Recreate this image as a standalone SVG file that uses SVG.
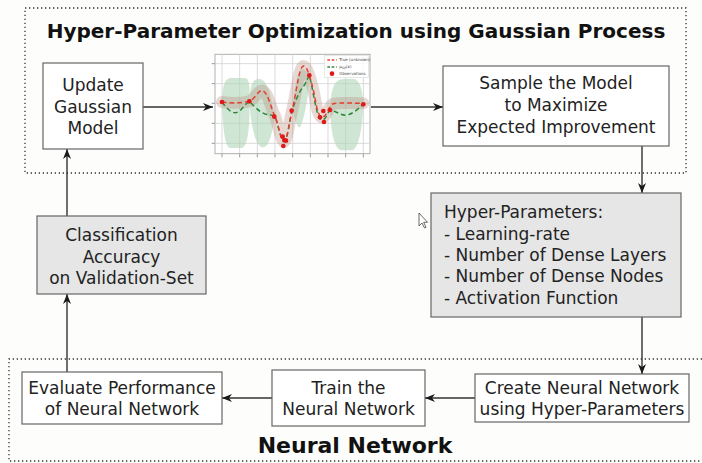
<svg xmlns="http://www.w3.org/2000/svg" width="702" height="463" viewBox="0 0 702 463">
  <defs>
    <style>
      .box { fill: #ffffff; stroke: #666666; stroke-width: 1.2; }
      .gbox { fill: #e6e6e6; stroke: #666666; stroke-width: 1.2; }
      .lbl { font-family: "DejaVu Sans", "Noto Sans", sans-serif; font-size: 17px; fill: #222222; text-anchor: middle; }
      .lft { text-anchor: start; }
      .title { font-family: "DejaVu Sans", "Noto Sans", sans-serif; font-weight: bold; fill: #111111; text-anchor: middle; }
      .zone { fill: none; stroke: #333333; stroke-width: 1.3; stroke-dasharray: 1.3 2.7; }
      .conn { fill: none; stroke: #333333; stroke-width: 1.4; marker-end: url(#arr); }
      .grid { stroke: #d2d2d2; stroke-width: 2.5; fill: none; }
      .tick { stroke: #888888; stroke-width: 2.5; }
      .lobe { fill: #b3d7b9; opacity: 0.62; }
      .obs { fill: #e01818; }
      .leg { font-family: "DejaVu Sans", sans-serif; font-size: 12px; fill: #444444; }
    </style>
    <marker id="arr" viewBox="0 0 10 8" refX="10" refY="4" markerWidth="10" markerHeight="8" markerUnits="userSpaceOnUse" orient="auto">
      <path d="M0,0 L10,4 L0,8 L3,4 Z" fill="#1a1a1a"/>
    </marker>
  </defs>

  <rect x="0" y="0" width="702" height="463" fill="#fdfdfb"/>

  <!-- dotted grouping frames -->
  <rect class="zone" x="25" y="8" width="661" height="165"/>
  <path class="zone" d="M702,359 L9,359 L9,461 L702,461"/>

  <text class="title" x="356" y="38" font-size="20">Hyper-Parameter Optimization using Gaussian Process</text>
  <text class="title" x="355" y="453" font-size="22">Neural Network</text>

  <!-- connectors -->
  <g id="connectors">
    <line class="conn" x1="143" y1="107" x2="213" y2="107"/>
    <line class="conn" x1="371" y1="107" x2="443" y2="107"/>
    <line class="conn" x1="642" y1="146" x2="642" y2="193"/>
    <line class="conn" x1="642" y1="317" x2="642" y2="374"/>
    <line class="conn" x1="475" y1="398" x2="425" y2="398"/>
    <line class="conn" x1="272" y1="398" x2="222" y2="398"/>
    <line class="conn" x1="67" y1="372" x2="67" y2="294"/>
    <line class="conn" x1="67" y1="216" x2="67" y2="149"/>
  </g>

  <g id="update-model">
    <rect class="box" x="43" y="63" width="100" height="86"/>
    <text class="lbl" x="93" y="90.5">Update</text>
    <text class="lbl" x="93" y="112.5">Gaussian</text>
    <text class="lbl" x="93" y="134">Model</text>
  </g>

  <!-- Gaussian process regression plot -->
  <g id="gp-plot" transform="translate(200 40) scale(0.33333)">
    <rect x="45" y="43" width="465" height="298" fill="#ffffff" stroke="#b0b0b0" stroke-width="3"/>
    <g class="grid">
      <line x1="66" y1="43" x2="66" y2="341"/>
      <line x1="119" y1="43" x2="119" y2="341"/>
      <line x1="172" y1="43" x2="172" y2="341"/>
      <line x1="225" y1="43" x2="225" y2="341"/>
      <line x1="278" y1="43" x2="278" y2="341"/>
      <line x1="331" y1="43" x2="331" y2="341"/>
      <line x1="384" y1="43" x2="384" y2="341"/>
      <line x1="437" y1="43" x2="437" y2="341"/>
      <line x1="490" y1="43" x2="490" y2="341"/>
      <line x1="45" y1="71" x2="510" y2="71"/>
      <line x1="45" y1="131" x2="510" y2="131"/>
      <line x1="45" y1="190" x2="510" y2="190"/>
      <line x1="45" y1="250" x2="510" y2="250"/>
      <line x1="45" y1="310" x2="510" y2="310"/>
    </g>
    <g class="tick">
      <line x1="66" y1="341" x2="66" y2="352"/>
      <line x1="119" y1="341" x2="119" y2="352"/>
      <line x1="172" y1="341" x2="172" y2="352"/>
      <line x1="225" y1="341" x2="225" y2="352"/>
      <line x1="278" y1="341" x2="278" y2="352"/>
      <line x1="331" y1="341" x2="331" y2="352"/>
      <line x1="384" y1="341" x2="384" y2="352"/>
      <line x1="437" y1="341" x2="437" y2="352"/>
      <line x1="490" y1="341" x2="490" y2="352"/>
      <line x1="35" y1="71" x2="45" y2="71"/>
      <line x1="35" y1="131" x2="45" y2="131"/>
      <line x1="35" y1="190" x2="45" y2="190"/>
      <line x1="35" y1="250" x2="45" y2="250"/>
      <line x1="35" y1="310" x2="45" y2="310"/>
    </g>
    <!-- 95% confidence lobes -->
    <path class="lobe" d="M66,186 C68,130 75,115 95,114 L135,114 C150,115 150,150 148,184 C150,230 148,322 125,324 L90,324 C72,322 68,240 66,186 Z"/>
    <path class="lobe" d="M148,184 C150,135 158,118 175,117 C195,117 205,140 212,170 C218,200 222,215 225,228 C218,270 210,320 190,322 C165,322 152,250 148,184 Z"/>
    <path class="lobe" d="M278,205 C285,130 295,90 305,86 C318,88 322,100 330,106 C326,160 316,230 300,262 C290,262 283,240 278,205 Z"/>
    <path class="lobe" d="M390,210 C392,140 405,118 430,117 L460,117 C480,118 488,150 490,193 C488,250 478,330 455,331 L425,331 C400,330 392,260 390,210 Z"/>
    <!-- band around the true function -->
    <path d="M66,186 C90,190 120,190 148,184 C165,178 175,148 188,152 C205,158 212,205 225,228 C235,255 242,300 252,305 C262,305 268,240 278,205 C290,150 298,80 310,78 C322,78 330,110 340,150 C348,185 352,228 365,232 C378,234 385,200 398,192 C420,186 460,190 490,190" fill="none" stroke="#b9877a" stroke-opacity="0.32" stroke-width="36" stroke-linejoin="round" stroke-linecap="round"/>
    <!-- GP mean -->
    <path d="M66,186 C80,205 95,220 108,218 C125,215 135,190 148,184 C160,195 175,215 195,222 C210,226 218,226 225,228 C235,255 242,300 252,305 C262,305 268,240 278,205 C290,175 300,150 310,140 C320,125 325,110 328,106 C335,130 342,180 350,210 C355,230 360,240 368,240 C378,240 382,215 392,210 C410,215 425,228 440,225 C460,222 475,205 490,193" fill="none" stroke="#2c8a3a" stroke-width="4.5" stroke-dasharray="14 9"/>
    <!-- true function -->
    <path d="M66,186 C90,190 120,190 148,184 C165,178 175,148 188,152 C205,158 212,205 225,228 C235,255 242,300 252,305 C262,305 268,240 278,205 C290,150 298,80 310,78 C322,78 330,110 340,150 C348,185 352,228 365,232 C378,234 385,200 398,192 C420,186 460,190 490,190" fill="none" stroke="#e0402e" stroke-width="4.5" stroke-dasharray="14 9"/>
    <g class="obs">
      <circle cx="66" cy="186" r="7"/>
      <circle cx="148" cy="184" r="7"/>
      <circle cx="223" cy="230" r="7"/>
      <circle cx="248" cy="290" r="7"/>
      <circle cx="253" cy="300" r="7"/>
      <circle cx="250" cy="318" r="7"/>
      <circle cx="258" cy="302" r="7"/>
      <circle cx="275" cy="212" r="7"/>
      <circle cx="328" cy="106" r="7"/>
      <circle cx="360" cy="232" r="7"/>
      <circle cx="370" cy="213" r="7"/>
      <circle cx="372" cy="246" r="7"/>
      <circle cx="390" cy="210" r="7"/>
      <circle cx="490" cy="193" r="7"/>
    </g>
    <!-- legend -->
    <rect x="374" y="47" width="132" height="66" fill="#ffffff" fill-opacity="0.8" stroke="#dddddd" stroke-width="2"/>
    <line x1="382" y1="60" x2="410" y2="60" stroke="#e0402e" stroke-width="4" stroke-dasharray="8 5"/>
    <text class="leg" x="418" y="64">True (unknown)</text>
    <line x1="382" y1="81" x2="410" y2="81" stroke="#2c8a3a" stroke-width="4" stroke-dasharray="8 5"/>
    <text class="leg" x="418" y="85">μ<tspan font-size="9" dy="3">GP</tspan><tspan dy="-3">(x)</tspan></text>
    <circle class="obs" cx="396" cy="101" r="7"/>
    <text class="leg" x="418" y="105">Observations</text>
  </g>

  <g id="sample-model">
    <rect class="box" x="443" y="66" width="226" height="80"/>
    <text class="lbl" x="556" y="89">Sample the Model</text>
    <text class="lbl" x="556" y="111">to Maximize</text>
    <text class="lbl" x="556" y="133">Expected Improvement</text>
  </g>

  <g id="hyper-parameters">
    <rect class="gbox" x="431" y="193" width="250" height="124"/>
    <text class="lbl lft" x="444" y="218">Hyper-Parameters:</text>
    <text class="lbl lft" x="444" y="239.5">- Learning-rate</text>
    <text class="lbl lft" x="444" y="261">- Number of Dense Layers</text>
    <text class="lbl lft" x="444" y="282">- Number of Dense Nodes</text>
    <text class="lbl lft" x="444" y="303.5">- Activation Function</text>
  </g>

  <g id="classification-accuracy">
    <rect class="gbox" x="37" y="216" width="169" height="78"/>
    <text class="lbl" x="121.5" y="241">Classification</text>
    <text class="lbl" x="121.5" y="262.5">Accuracy</text>
    <text class="lbl" x="121.5" y="284">on Validation-Set</text>
  </g>

  <g id="create-network">
    <rect class="box" x="475" y="374" width="214" height="48"/>
    <text class="lbl" x="582" y="393.5">Create Neural Network</text>
    <text class="lbl" x="582" y="415">using Hyper-Parameters</text>
  </g>

  <g id="train-network">
    <rect class="box" x="272" y="370" width="153" height="56"/>
    <text class="lbl" x="348.5" y="393.5">Train the</text>
    <text class="lbl" x="348.5" y="415">Neural Network</text>
  </g>

  <g id="evaluate-network">
    <rect class="box" x="22" y="372" width="200" height="52"/>
    <text class="lbl" x="122" y="393.5">Evaluate Performance</text>
    <text class="lbl" x="122" y="415">of Neural Network</text>
  </g>

  <!-- mouse pointer -->
  <path d="M419,213 L419,226 L422,223 L424.5,228 L426,227.3 L423.7,222.3 L427.5,222.3 Z" fill="#ffffff" stroke="#444444" stroke-width="0.8" stroke-linejoin="round"/>
</svg>
